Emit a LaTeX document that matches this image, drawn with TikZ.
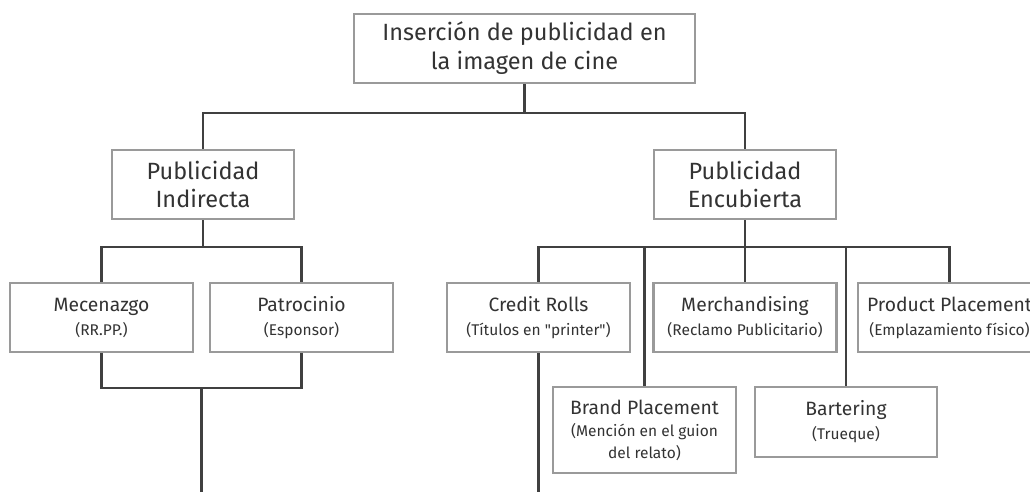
\documentclass[tikz,border=0pt]{standalone}
\usepackage{fontspec}
\setmainfont{Fira Sans}
\definecolor{linegray}{HTML}{404040}
\definecolor{boxgray}{HTML}{9A9A9A}
\definecolor{txtgray}{HTML}{333333}
\newcommand{\subtxt}[1]{{\fontsize{15.5}{18}\selectfont #1}}
\tikzset{
	topbox/.style={draw=boxgray, line width=2.5pt, fill=white, inner sep=0pt,
		minimum width=341pt, minimum height=69pt, align=center, text=txtgray,
		font=\fontsize{23.5}{29}\selectfont},
	midbox/.style={topbox, minimum width=182pt, font=\fontsize{23.5}{28.5}\selectfont},
	leafbox/.style={topbox, minimum width=183pt, font=\fontsize{19.3}{24}\selectfont},
	conn/.style={draw=linegray, line width=2.5pt}
}
\begin{document}
\begin{tikzpicture}[x=1pt, y=-1pt]
		\useasboundingbox (0,0) rectangle (1030,492);
		% boxes
		\node[topbox] (ins) at (524.5,48.5) {Inserción de publicidad en\\la imagen de cine};
		\node[midbox] (ind) at (203,184.5) {Publicidad\\Indirecta};
		\node[midbox] (enc) at (745,184.5) {Publicidad\\Encubierta};
		\node[leafbox] (mec) at (101.5,317.5) {Mecenazgo\\\subtxt{(RR.PP.)}};
		\node[leafbox] (pat) at (301.5,317.5) {Patrocinio\\\subtxt{(Esponsor)}};
		\node[leafbox] (cre) at (538.5,317.5) {Credit Rolls\\\subtxt{(Títulos en \textquotedbl printer\textquotedbl)}};
		\node[leafbox] (mer) at (745,317.5) {Merchandising\\\subtxt{(Reclamo Publicitario)}};
		\node[leafbox] (pro) at (949.5,317.5) {Product Placement\\\subtxt{(Emplazamiento físico)}};
		\node[leafbox, minimum height=86pt] (bra) at (644.5,430) {Brand Placement\\[-2pt]\subtxt{(Mención en el guion}\\[-2pt]\subtxt{del relato)}};
		\node[leafbox, minimum width=182pt, minimum height=70pt] (bar) at (846,422) {Bartering\\\subtxt{(Trueque)}};
		% joints
		\coordinate (j1) at (524.5,113);
		\coordinate (j2) at (203,247);
		\coordinate (j3) at (201.5,388);
		\coordinate (j4) at (745,247);
		\coordinate (endl) at (201.5,492);
		\coordinate (endr) at (538.5,492);
		% connectors
		\draw[conn] (ins) -- (j1);
		\draw[conn] (ind.north) |- (j1) -| (enc.north);
		\draw[conn] (ind) -- (j2);
		\draw[conn] (mec.north) |- (j2) -| (pat.north);
		\draw[conn] (mec.south) |- (j3) -| (pat.south);
		\draw[conn] (j3) -- (endl);
		\draw[conn] (enc) -- (j4);
		\draw[conn] (cre.north) |- (j4) -| (pro.north);
		\draw[conn] (j4) -- (mer.north);
		\draw[conn] (bra.north) -- (bra.north |- j4);
		\draw[conn] (bar.north) -- (bar.north |- j4);
		\draw[conn] (cre.south) -- (endr);
	\end{tikzpicture}
\end{document}
